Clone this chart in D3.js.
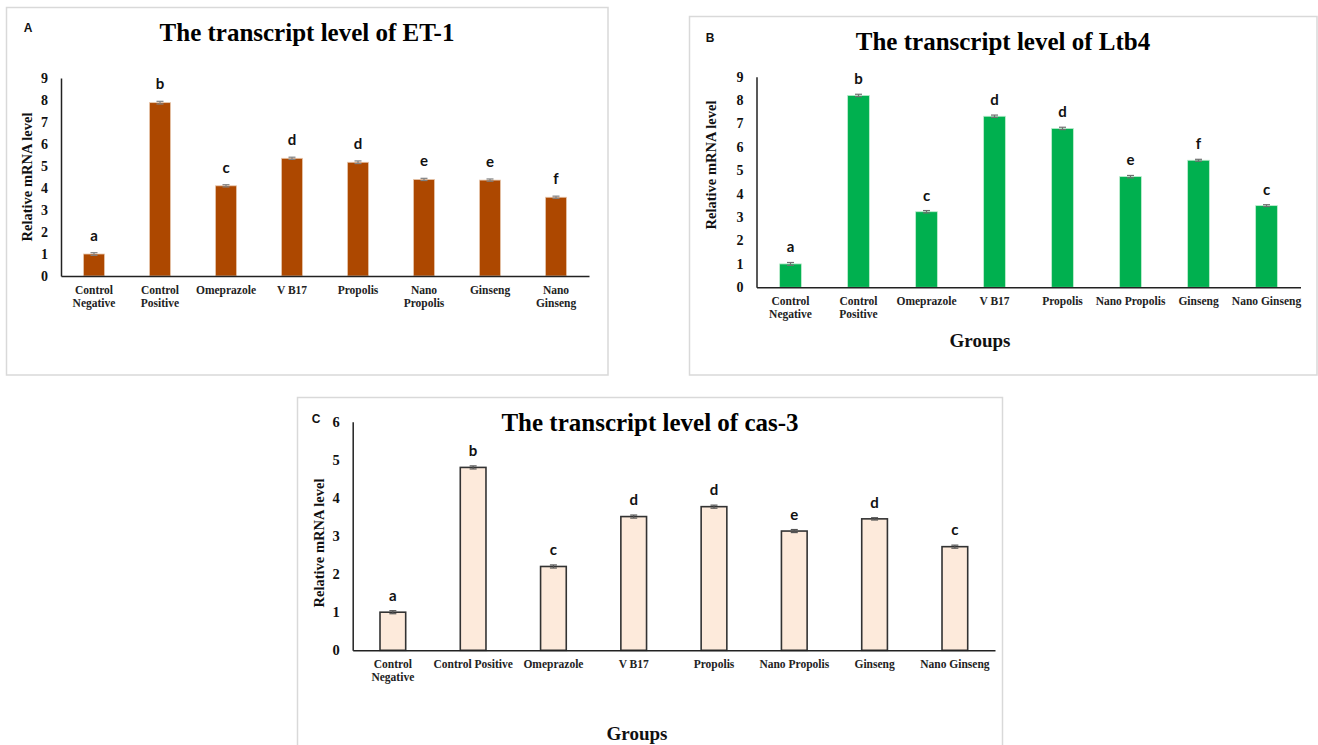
<!DOCTYPE html>
<html>
<head>
<meta charset="utf-8">
<script src="https://cdn.jsdelivr.net/npm/d3@7"></script>
<style>
  html, body { margin: 0; padding: 0; background: #fff; }
  svg { display: block; }
</style>
</head>
<body>
<svg id="fig" width="1318" height="745"></svg>
<script>
// Treatment groups (same order in all three panels)
const groups = ["Control Negative", "Control Positive", "Omeprazole", "V B17",
                "Propolis", "Nano Propolis", "Ginseng", "Nano Ginseng"];

// Category tick labels, with line breaks as set out in each panel
const ticksET1 = ["Control\nNegative", "Control\nPositive", "Omeprazole", "V B17",
                  "Propolis", "Nano\nPropolis", "Ginseng", "Nano\nGinseng"];
const ticksLtb4 = ["Control\nNegative", "Control\nPositive", "Omeprazole", "V B17",
                   "Propolis", "Nano Propolis", "Ginseng", "Nano Ginseng"];
const ticksCas3 = ["Control\nNegative", "Control Positive", "Omeprazole", "V B17",
                   "Propolis", "Nano Propolis", "Ginseng", "Nano Ginseng"];

// Relative mRNA level (mean) and error for each group
const valuesET1 = [1.0, 7.88, 4.1, 5.35, 5.17, 4.39, 4.36, 3.58];
const errorsET1 = [0.06, 0.06, 0.05, 0.05, 0.06, 0.05, 0.05, 0.05];
const lettersET1 = ["a", "b", "c", "d", "d", "e", "e", "f"];

const valuesLtb4 = [1.0, 8.2, 3.23, 7.31, 6.79, 4.73, 5.43, 3.49];
const errorsLtb4 = [0.06, 0.05, 0.05, 0.05, 0.05, 0.05, 0.04, 0.04];
const lettersLtb4 = ["a", "b", "c", "d", "d", "e", "f", "c"];

const valuesCas3 = [1.0, 4.8, 2.2, 3.51, 3.77, 3.13, 3.45, 2.72];
const errorsCas3 = [0.04, 0.04, 0.04, 0.04, 0.04, 0.04, 0.03, 0.04];
const lettersCas3 = ["a", "b", "c", "d", "d", "e", "d", "c"];

// Y-axis tick values
const yTicksET1 = [0, 1, 2, 3, 4, 5, 6, 7, 8, 9];
const yTicksLtb4 = [0, 1, 2, 3, 4, 5, 6, 7, 8, 9];
const yTicksCas3 = [0, 1, 2, 3, 4, 5, 6];

const SERIF = "'Liberation Serif', 'Times New Roman', serif";
const SANS = "Lato, 'Open Sans', Calibri, sans-serif";

const svg = d3.select("#fig");

const panels = [
  {
    tag: "A", title: "The transcript level of ET-1",
    frame: [6.5, 7.5, 601.5, 367.5],
    plot: { left: 61, right: 589, top: 78, bottom: 276 },
    yMax: 9, yTicks: yTicksET1,
    ticks: ticksET1, values: valuesET1, errors: errorsET1, letters: lettersET1,
    fill: "#AD4800", stroke: "#e8c9b0", strokeW: 0.8, errColor: "#808080",
    titleX: 307, titleY: 40.5, titleSize: 25,
    tagX: 28, tagY: 32,
    yLabelX: 27, yLabelY: 177, tickSize: 14,
    letterGap: 18, groups: null
  },
  {
    tag: "B", title: "The transcript level of Ltb4",
    frame: [689.5, 16.5, 627.5, 358.5],
    plot: { left: 756.5, right: 1300.5, top: 76.7, bottom: 287.3 },
    yMax: 9, yTicks: yTicksLtb4,
    ticks: ticksLtb4, values: valuesLtb4, errors: errorsLtb4, letters: lettersLtb4,
    fill: "#00B04F", stroke: "#bfeccf", strokeW: 0.8, errColor: "#707070",
    titleX: 1003, titleY: 50, titleSize: 25,
    tagX: 710, tagY: 42,
    yLabelX: 711, yLabelY: 165, tickSize: 14,
    letterGap: 16, groups: { x: 980, y: 347, size: 19 }
  },
  {
    tag: "C", title: "The transcript level of cas-3",
    frame: [297.5, 397.5, 705, 360],
    plot: { left: 352.7, right: 995, top: 421.7, bottom: 650.3 },
    yMax: 6, yTicks: yTicksCas3,
    ticks: ticksCas3, values: valuesCas3, errors: errorsCas3, letters: lettersCas3,
    fill: "#FDEADB", stroke: "#333333", strokeW: 1.6, errColor: "#555555",
    titleX: 650, titleY: 430.5, titleSize: 25,
    tagX: 316, tagY: 423,
    yLabelX: 319, yLabelY: 543, tickSize: 14.5,
    letterGap: 16, groups: { x: 637, y: 740, size: 19 }
  }
];

panels.forEach(p => {
  const g = svg.append("g").attr("class", "panel-" + p.tag);

  // Panel frame
  g.append("rect")
    .attr("x", p.frame[0]).attr("y", p.frame[1])
    .attr("width", p.frame[2]).attr("height", p.frame[3])
    .attr("fill", "#fff").attr("stroke", "#d9d9d9").attr("stroke-width", 1.5);

  const x = d3.scaleBand()
    .domain(groups)
    .range([p.plot.left, p.plot.right])
    .paddingInner(0.68)
    .paddingOuter(0.34);

  const y = d3.scaleLinear()
    .domain([0, p.yMax])
    .range([p.plot.bottom, p.plot.top]);

  const rows = groups.map((name, i) => ({
    name, value: p.values[i], err: p.errors[i], letter: p.letters[i], tick: p.ticks[i]
  }));

  // Bars
  g.append("g").selectAll("rect")
    .data(rows).join("rect")
    .attr("x", d => x(d.name))
    .attr("y", d => y(d.value))
    .attr("width", x.bandwidth())
    .attr("height", d => y(0) - y(d.value))
    .attr("fill", p.fill)
    .attr("stroke", p.stroke)
    .attr("stroke-width", p.strokeW);

  // Error bars
  const eb = g.append("g").attr("stroke", p.errColor).attr("stroke-width", 1.2).attr("fill", "none");
  rows.forEach(d => {
    const cx = x(d.name) + x.bandwidth() / 2;
    const y1 = y(d.value + d.err), y2 = y(d.value - d.err);
    eb.append("line").attr("x1", cx).attr("x2", cx).attr("y1", y1).attr("y2", y2);
    eb.append("line").attr("x1", cx - 3.5).attr("x2", cx + 3.5).attr("y1", y1).attr("y2", y1);
    eb.append("line").attr("x1", cx - 3.5).attr("x2", cx + 3.5).attr("y1", y2).attr("y2", y2);
  });

  // Significance letters
  g.append("g").selectAll("text")
    .data(rows).join("text")
    .attr("x", d => x(d.name) + x.bandwidth() / 2)
    .attr("y", d => y(d.value + d.err) - p.letterGap)
    .attr("text-anchor", "middle")
    .attr("dominant-baseline", "central")
    .attr("font-family", SANS).attr("font-weight", 700).attr("font-size", 15)
    .attr("fill", "#111")
    .text(d => d.letter);

  // Y axis (line and labels only)
  const yAxis = d3.axisLeft(y).tickValues(p.yTicks).tickSize(0).tickPadding(13).tickFormat(d3.format("d"));
  const ya = g.append("g").attr("transform", `translate(${p.plot.left},0)`).call(yAxis);
  ya.select(".domain").attr("stroke", "#222").attr("stroke-width", 1.5);
  ya.selectAll("text")
    .attr("font-family", SERIF).attr("font-weight", 700).attr("font-size", p.tickSize)
    .attr("fill", "#111");

  // X axis with multi-line category labels
  const xAxis = d3.axisBottom(x).tickSize(0).tickPadding(0).tickFormat("");
  const xa = g.append("g").attr("transform", `translate(0,${p.plot.bottom})`).call(xAxis);
  xa.select(".domain").attr("stroke", "#222").attr("stroke-width", 1.5);
  xa.selectAll(".tick").each(function (name, i) {
    const lines = rows[i].tick.split("\n");
    const t = d3.select(this).append("text")
      .attr("text-anchor", "middle")
      .attr("font-family", SERIF).attr("font-weight", 700).attr("font-size", 11.5)
      .attr("fill", "#222");
    lines.forEach((ln, k) => {
      t.append("tspan").attr("x", 0).attr("y", 14 + k * 13)
        .attr("dominant-baseline", "central").text(ln);
    });
  });

  // Y axis title
  g.append("text")
    .attr("transform", `translate(${p.yLabelX},${p.yLabelY}) rotate(-90)`)
    .attr("text-anchor", "middle").attr("dominant-baseline", "central")
    .attr("font-family", SERIF).attr("font-weight", 700).attr("font-size", 14.5)
    .attr("fill", "#111")
    .text("Relative mRNA level");

  // Chart title
  g.append("text")
    .attr("x", p.titleX).attr("y", p.titleY)
    .attr("text-anchor", "middle")
    .attr("font-family", SERIF).attr("font-weight", 700).attr("font-size", p.titleSize)
    .attr("fill", "#000")
    .text(p.title);

  // Panel tag
  g.append("text")
    .attr("x", p.tagX).attr("y", p.tagY)
    .attr("text-anchor", "middle")
    .attr("font-family", "'Liberation Sans', Arial, sans-serif").attr("font-weight", 700).attr("font-size", 12)
    .attr("fill", "#111")
    .text(p.tag);

  // X axis title
  if (p.groups) {
    g.append("text")
      .attr("x", p.groups.x).attr("y", p.groups.y)
      .attr("text-anchor", "middle")
      .attr("font-family", SERIF).attr("font-weight", 700).attr("font-size", p.groups.size)
      .attr("fill", "#111")
      .text("Groups");
  }
});
</script>
</body>
</html>
